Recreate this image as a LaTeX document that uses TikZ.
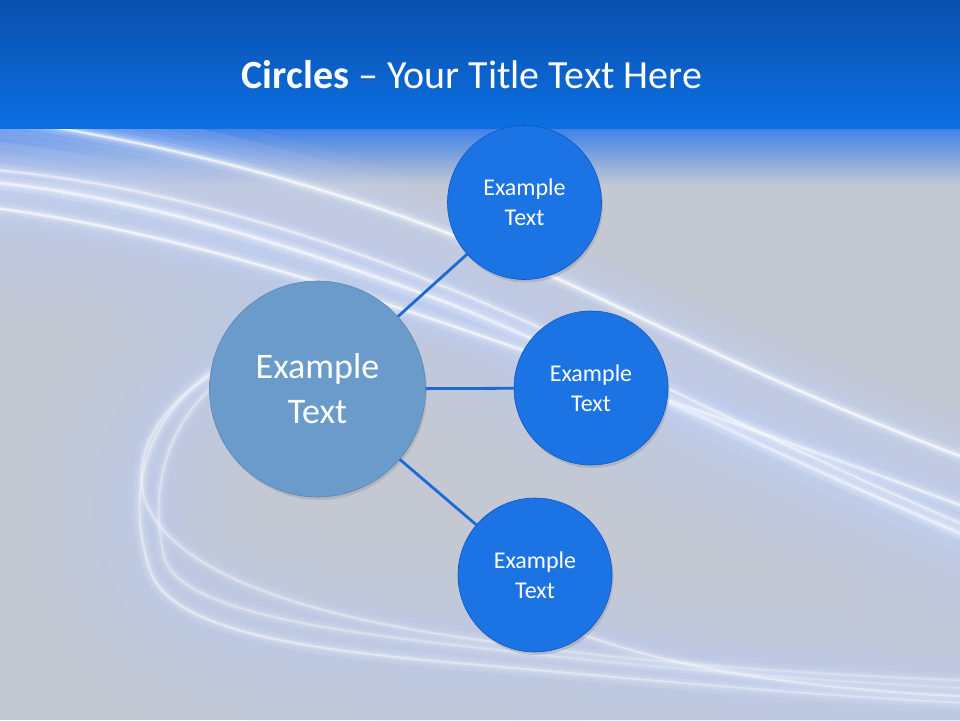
\documentclass[tikz,border=0pt]{standalone}
\usepackage{fontspec}
\setmainfont{Carlito}
\usetikzlibrary{shadows}
\definecolor{bg}{HTML}{C3C8D3}
\definecolor{hdtop}{HTML}{0A50AC}
\definecolor{hdbot}{HTML}{0B6FE2}
\definecolor{fadeblue}{HTML}{3A7EEA}
\definecolor{glow}{HTML}{C8D8FF}
\definecolor{tint}{HTML}{BCCBF6}
\definecolor{sbin}{HTML}{1C74E4}
\definecolor{sbmid}{HTML}{1668D8}
\definecolor{sbout}{HTML}{0C57C2}
\definecolor{bbin}{HTML}{6B9BCB}
\definecolor{bbmid}{HTML}{6696C7}
\definecolor{bbout}{HTML}{8DB6E2}
\definecolor{linkblue}{HTML}{1B6AD6}
\pgfdeclareradialshading{smallball}{\pgfpoint{0bp}{6bp}}{color(0bp)=(sbin); color(34bp)=(sbin); color(46bp)=(sbmid); color(50bp)=(sbout)}
\pgfdeclareradialshading{bigball}{\pgfpoint{0bp}{0bp}}{color(0bp)=(bbin); color(44bp)=(bbin); color(48bp)=(bbmid); color(50bp)=(bbout)}
\newcommand{\myglow}[2]{%
  \foreach \w/\o in {80/0.05,56/0.06,38/0.08,24/0.10}{%
    \pgfmathsetmacro\op{#1*\o}%
    \draw[glow, line width=\w pt, opacity=\op] #2;}%
  \foreach \w/\o in {14/0.12,8/0.18,4/0.3,1.8/0.6}{%
    \pgfmathsetmacro\op{#1*\o}%
    \draw[white, line width=\w pt, opacity=\op] #2;}%
}
\newcommand{\mytint}[2]{%
  \foreach \w in {220,170,130,90,55}{%
    \pgfmathsetmacro\op{#1*0.09}%
    \draw[tint, line width=\w pt, opacity=\op] #2;}%
}
\tikzset{
  smallcircle/.style={circle, minimum size=154pt, inner sep=0pt, shading=smallball,
    draw=sbout, line width=0.6pt, text=white, align=center,
    font=\fontsize{24}{30}\selectfont,
    drop shadow={shadow xshift=1.5pt, shadow yshift=-3pt, opacity=0.3}},
  bigcircle/.style={circle, minimum size=216pt, inner sep=0pt, shading=bigball,
    draw=bbmid!90!black, line width=0.6pt, text=white, align=center,
    font=\fontsize{36}{45}\selectfont,
    drop shadow={shadow xshift=1.5pt, shadow yshift=-3pt, opacity=0.25}},
  link/.style={draw=linkblue, line width=2.8pt},
}
\begin{document}
\begin{tikzpicture}[x=1pt, y=-1pt]
\useasboundingbox (0,0) rectangle (960,720);
% background
\fill[bg] (0,0) rectangle (960,720);
\shade[top color=fadeblue, bottom color=bg] (0,126) rectangle (960,185);
\begin{scope}
\clip (0,126) rectangle (960,720);
% broad blue tints
\mytint{1.1}{(-80,200) .. controls (150,215) and (330,275) .. (440,310) .. controls (580,365) and (760,450) .. (1040,565)}
\mytint{0.8}{(300,330) .. controls (150,375) and (120,480) .. (150,570) .. controls (170,630) and (300,650) .. (480,665) .. controls (650,680) and (800,695) .. (1040,705)}
% upper wedge near header
\myglow{1.1}{(-60,110) .. controls (250,150) and (450,230) .. (560,280) .. controls (650,320) and (800,400) .. (1020,478)}
% upper main swoosh
\myglow{1.55}{(-30,180) .. controls (150,195) and (330,260) .. (440,300) .. controls (570,350) and (760,450) .. (1000,550)}
\myglow{1.0}{(-30,205) .. controls (150,225) and (330,285) .. (450,325) .. controls (580,370) and (760,430) .. (1000,520)}
\myglow{0.7}{(-30,168) .. controls (150,180) and (330,240) .. (440,285) .. controls (570,335) and (760,440) .. (1000,540)}
% loop and lower bands
\myglow{0.75}{(300,330) .. controls (150,375) and (120,480) .. (150,570) .. controls (170,630) and (300,650) .. (480,665) .. controls (650,680) and (800,695) .. (1000,705)}
\myglow{0.55}{(280,345) .. controls (170,390) and (145,480) .. (165,560) .. controls (185,610) and (320,630) .. (480,648) .. controls (650,668) and (800,680) .. (1000,690)}
\myglow{0.5}{(300,335) .. controls (160,380) and (130,450) .. (145,500) .. controls (175,580) and (330,620) .. (480,640) .. controls (650,664) and (800,674) .. (1000,682)}
\myglow{0.6}{(535,615) .. controls (650,668) and (800,690) .. (1000,698)}
\end{scope}
% header
\shade[top color=hdtop, bottom color=hdbot] (0,0) rectangle (960,128);
\node[text=white, anchor=base, font=\fontsize{40}{48}\selectfont, inner sep=0pt] (title) at (472,88) {\textbf{Circles} – Your Title Text Here};
% circles
\node[bigcircle] (big) at (317.5,389) {Example\\Text};
\node[smallcircle] (t1) at (524.5,202.5) {Example\\Text};
\node[smallcircle] (t2) at (591,388) {Example\\Text};
\node[smallcircle] (t3) at (535,575) {Example\\Text};
% links
\draw[link] (big) -- (t1);
\draw[link] (big) -- (t2);
\draw[link] (big) -- (t3);
\end{tikzpicture}
\end{document}
